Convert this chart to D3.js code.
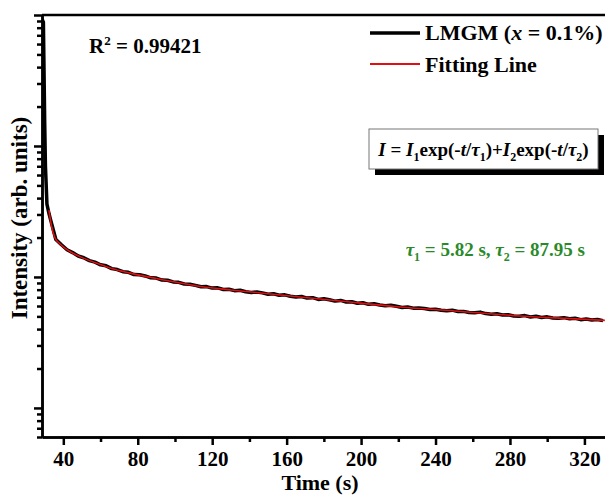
<!DOCTYPE html>
<html>
<head>
<meta charset="utf-8">
<script src="https://cdn.jsdelivr.net/npm/d3@7"></script>
<style>
  body { margin: 0; background: #fff; }
  svg text { font-family: 'Liberation Serif', 'Times New Roman', serif; font-weight: bold; }
  .axis path, .axis line { stroke: #000; stroke-width: 2.5; }
  .axis text { font-size: 21px; fill: #000; }
</style>
</head>
<body>
<svg id="chart" width="605" height="495"></svg>
<script>
// measured decay curve [time (s), intensity]
const measured = [
  [28.6, 930], [29.3, 880], [30.0, 150], [30.4, 70], [31.2, 36], [32.3, 30.5],
  [33, 27.9], [36, 19.3], [39, 17.6], [42, 16.15], [45, 15.35], [48, 14.45],
  [51, 14.02], [54, 13.32], [57, 12.98], [60, 12.38], [63, 12.16], [66, 11.58],
  [69, 11.40], [72, 10.96], [75, 10.85], [78, 10.44], [81, 10.38], [84, 10.18],
  [87, 9.85], [90, 9.80], [93, 9.47], [96, 9.44], [99, 9.17], [102, 9.10],
  [105, 8.83], [108, 8.80], [111, 8.62], [114, 8.41], [117, 8.44], [120, 8.22],
  [123, 8.26], [126, 8.02], [129, 8.05], [132, 7.86], [135, 7.92], [138, 7.71],
  [141, 7.62], [144, 7.68], [147, 7.56], [150, 7.38], [153, 7.44], [156, 7.25],
  [159, 7.30], [162, 7.12], [165, 7.02], [168, 7.09], [171, 6.90], [174, 6.95],
  [177, 6.74], [180, 6.82], [183, 6.70], [186, 6.54], [189, 6.62], [192, 6.44],
  [195, 6.47], [198, 6.30], [201, 6.36], [204, 6.18], [207, 6.24], [210, 6.10],
  [213, 6.02], [216, 6.08], [219, 5.97], [222, 5.85], [225, 5.89], [228, 5.78],
  [231, 5.79], [234, 5.75], [237, 5.64], [240, 5.67], [243, 5.57], [246, 5.53],
  [249, 5.58], [252, 5.45], [255, 5.46], [258, 5.36], [261, 5.33], [264, 5.39],
  [267, 5.25], [270, 5.20], [273, 5.23], [276, 5.12], [279, 5.15], [282, 5.04],
  [285, 5.01], [288, 5.07], [291, 4.95], [294, 5.01], [297, 4.90], [300, 4.96],
  [303, 4.86], [306, 4.83], [309, 4.89], [312, 4.79], [315, 4.84], [318, 4.72],
  [321, 4.78], [324, 4.69], [327, 4.73], [330, 4.64]
];

// fitted curve
const fitTime = [32.3, 33.5, 35.5, 38, 40, 44, 49, 58, 66, 76, 94, 112, 130, 150, 167, 190, 221, 250, 285, 310, 331];
const fitIntensity = [32.4, 25.1, 19.9, 18.0, 17.0, 15.5, 14.3, 12.7, 11.6, 10.7, 9.48, 8.53, 7.96, 7.45, 7.03, 6.52, 5.90, 5.50, 5.04, 4.83, 4.66];

const xTickLabels = [40, 80, 120, 160, 200, 240, 280, 320];
const xMinorTicks = [60, 100, 140, 180, 220, 260, 300];
const yMajorTicks = [1, 10, 100, 1000];

const width = 605, height = 495;
const margin = { left: 42, right: -1, top: 15, bottom: 58 };

const svg = d3.select('#chart');
svg.append('rect').attr('width', width).attr('height', height).attr('fill', '#fff');

const x = d3.scaleLinear().domain([28.55, 331.6]).range([margin.left, width - margin.right]);
const y = d3.scaleLog().domain([0.6, 1000]).range([height - margin.bottom, margin.top]);

const yMinorTicks = [];
yMajorTicks.forEach(m => d3.range(2, 10).forEach(k => {
  if (m * k < 1000) yMinorTicks.push(m * k);
}));
[0.6, 0.7, 0.8, 0.9].forEach(v => yMinorTicks.push(v));

// Axes
const bottom = height - margin.bottom;
svg.append('g').attr('class', 'axis')
  .attr('transform', `translate(0,${bottom})`)
  .call(d3.axisBottom(x).tickValues(xTickLabels).tickSize(8).tickSizeOuter(0).tickPadding(6));
svg.append('g').attr('class', 'axis')
  .attr('transform', `translate(0,${bottom})`)
  .call(d3.axisBottom(x).tickValues(xMinorTicks).tickSize(5).tickFormat('').tickSizeOuter(0));

svg.append('g').attr('class', 'axis')
  .attr('transform', `translate(${margin.left},0)`)
  .call(d3.axisLeft(y).tickValues(yMajorTicks).tickSize(8).tickFormat('').tickSizeOuter(0));
svg.append('g').attr('class', 'axis')
  .attr('transform', `translate(${margin.left},0)`)
  .call(d3.axisLeft(y).tickValues(yMinorTicks).tickSize(5).tickFormat('').tickSizeOuter(0));

// top frame line
svg.append('line')
  .attr('x1', margin.left).attr('x2', width)
  .attr('y1', margin.top).attr('y2', margin.top)
  .attr('stroke', '#000').attr('stroke-width', 2.5);

// Lines
svg.append('clipPath').attr('id', 'plot-clip')
  .append('rect').attr('x', margin.left + 1).attr('y', margin.top)
  .attr('width', width - margin.left).attr('height', bottom - margin.top);

const dataLine = d3.line().x(d => x(d[0])).y(d => y(d[1]));
svg.append('path')
  .datum(measured)
  .attr('clip-path', 'url(#plot-clip)')
  .attr('d', dataLine)
  .attr('fill', 'none').attr('stroke', '#000').attr('stroke-width', 3.5)
  .attr('stroke-linejoin', 'round');

const fitLine = d3.line().x((d, i) => x(fitTime[i])).y(d => y(d)).curve(d3.curveMonotoneX);
svg.append('path')
  .datum(fitIntensity)
  .attr('clip-path', 'url(#plot-clip)')
  .attr('d', fitLine)
  .attr('fill', 'none').attr('stroke', '#e01010').attr('stroke-width', 1.6);

// Axis titles
svg.append('text')
  .attr('x', 320).attr('y', 490)
  .attr('text-anchor', 'middle').style('font-size', '22px')
  .text('Time (s)');
svg.append('text')
  .attr('transform', 'translate(27,218) rotate(-90)')
  .attr('text-anchor', 'middle').style('font-size', '23px')
  .text('Intensity (arb. units)');

// R squared
const r2 = svg.append('text').attr('x', 89).attr('y', 53).style('font-size', '21px');
r2.append('tspan').text('R');
r2.append('tspan').attr('dy', -8).style('font-size', '13px').text('2');
r2.append('tspan').attr('dy', 8).text(' = 0.99421');

// Legend
svg.append('line').attr('x1', 370).attr('x2', 420).attr('y1', 33).attr('y2', 33)
  .attr('stroke', '#000').attr('stroke-width', 3.5);
const lg1 = svg.append('text').attr('x', 425).attr('y', 40).style('font-size', '22px');
lg1.append('tspan').text('LMGM (');
lg1.append('tspan').style('font-style', 'italic').text('x');
lg1.append('tspan').text(' = 0.1%)');
svg.append('line').attr('x1', 370).attr('x2', 420).attr('y1', 64).attr('y2', 64)
  .attr('stroke', '#e01010').attr('stroke-width', 2);
svg.append('text').attr('x', 425).attr('y', 72).style('font-size', '22px').text('Fitting Line');

// Formula box
svg.append('rect').attr('x', 375).attr('y', 135).attr('width', 229).attr('height', 40).attr('fill', '#000');
svg.append('rect').attr('x', 369).attr('y', 129).attr('width', 229).attr('height', 40)
  .attr('fill', '#fff').attr('stroke', '#777').attr('stroke-width', 1);

// text with italic parts and subscripts
function richText(sel, parts, subSize) {
  let shift = 0;
  parts.forEach(p => {
    const ts = sel.append('tspan').text(p.t);
    const target = p.sub ? 5 : 0;
    if (target !== shift) { ts.attr('dy', target - shift); shift = target; }
    if (p.sub) ts.style('font-size', subSize);
    else ts.style('font-style', p.it ? 'italic' : 'normal');
  });
}

const formula = svg.append('text').attr('x', 483.5).attr('y', 156)
  .attr('text-anchor', 'middle').style('font-size', '19px');
richText(formula, [
  { t: 'I', it: true }, { t: ' = ' }, { t: 'I', it: true }, { t: '1', sub: true },
  { t: 'exp(-' }, { t: 't', it: true }, { t: '/' }, { t: '\u03c4', it: true }, { t: '1', sub: true },
  { t: ')+' }, { t: 'I', it: true }, { t: '2', sub: true },
  { t: 'exp(-' }, { t: 't', it: true }, { t: '/' }, { t: '\u03c4', it: true }, { t: '2', sub: true },
  { t: ')' }
], '12px');

const taus = svg.append('text').attr('x', 585).attr('y', 256)
  .attr('text-anchor', 'end').style('font-size', '19px').attr('fill', '#2a8a2a');
richText(taus, [
  { t: '\u03c4', it: true }, { t: '1', sub: true }, { t: ' = 5.82 s, ' },
  { t: '\u03c4', it: true }, { t: '2', sub: true }, { t: ' = 87.95 s' }
], '12px');
</script>
</body>
</html>
